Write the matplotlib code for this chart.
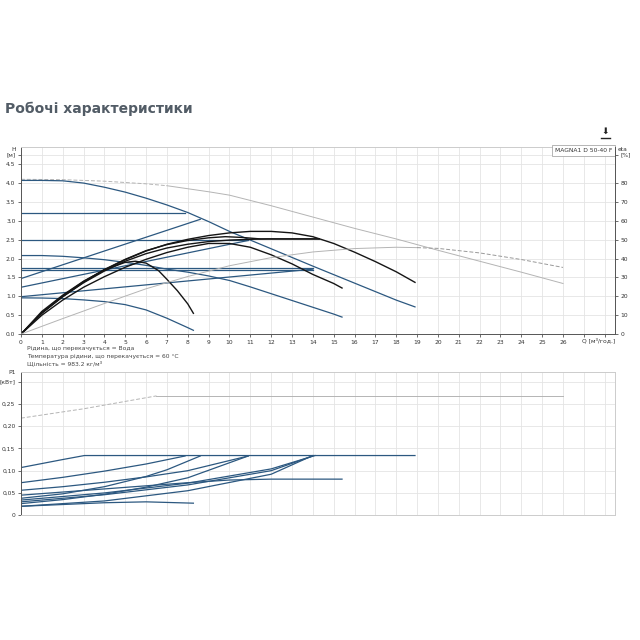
import numpy as np
import matplotlib
matplotlib.use("Agg")
import matplotlib.pyplot as plt
from matplotlib.lines import Line2D

# ---- data ----
# blue control curves, head H [m] vs flow Q [m3/h]
q_max = [0, 1, 2, 3, 4, 5, 6, 7, 8, 9, 10, 12, 14, 16, 18, 18.9]
h_max = [4.07, 4.07, 4.06, 4.0, 3.89, 3.76, 3.6, 3.42, 3.22, 2.98, 2.72, 2.26, 1.8, 1.35, 0.9, 0.72]
q_cp = [[0, 7.87], [0, 10.9], [0, 14.0], [0, 14.0]]
h_cp = [[3.21, 3.21], [2.5, 2.5], [1.74, 1.74], [1.70, 1.70]]
q_pp = [[0, 8.6], [0, 10.9], [0, 14.0]]
h_pp = [[1.47, 3.04], [1.24, 2.48], [0.99, 1.72]]
q_d = [0, 1, 2, 3, 4, 5, 6, 7, 8, 9, 10, 11, 12, 13, 14, 15, 15.4]
h_d = [2.08, 2.08, 2.06, 2.02, 1.97, 1.9, 1.82, 1.72, 1.64, 1.54, 1.42, 1.25, 1.07, 0.89, 0.71, 0.53, 0.45]
q_e = [0, 1, 2, 3, 4, 5, 6, 7, 8, 8.27]
h_e = [0.96, 0.955, 0.94, 0.905, 0.86, 0.78, 0.64, 0.42, 0.17, 0.10]

# black curves
q_k1 = [0, 1, 2, 3, 4, 5, 6, 7, 8, 9, 10, 11, 12, 13, 14, 15, 16, 17, 18, 18.9]
h_k1 = [0, 0.55, 0.99, 1.37, 1.7, 1.97, 2.2, 2.38, 2.51, 2.61, 2.68, 2.72, 2.72, 2.68, 2.58, 2.4, 2.17, 1.92, 1.65, 1.37]
q_k2 = [0, 1, 2, 3, 4, 5, 6, 7, 8, 9, 9.8, 10.6, 11.5, 13, 14.3]
h_k2 = [0, 0.57, 1.01, 1.39, 1.71, 1.98, 2.21, 2.37, 2.48, 2.55, 2.58, 2.56, 2.52, 2.52, 2.52]
q_k3 = [0, 1, 2, 3, 4, 5, 6, 7, 8, 9, 10, 11, 11.8, 13, 14.3]
h_k3 = [0, 0.56, 0.99, 1.36, 1.67, 1.93, 2.13, 2.28, 2.38, 2.45, 2.49, 2.51, 2.52, 2.52, 2.52]
q_k4 = [0, 1, 2, 3, 4, 5, 6, 7, 8, 9, 10, 11, 12, 13, 14, 15, 15.4]
h_k4 = [0, 0.5, 0.9, 1.24, 1.52, 1.77, 1.98, 2.16, 2.3, 2.4, 2.4, 2.3, 2.1, 1.86, 1.58, 1.34, 1.22]
q_k5 = [0, 1, 2, 3, 4, 5, 5.5, 6, 6.6, 7, 7.5, 8, 8.27]
h_k5 = [0, 0.6, 1.03, 1.4, 1.7, 1.9, 1.93, 1.88, 1.68, 1.45, 1.15, 0.8, 0.55]

# grey curves
q_g1 = [0, 2, 4, 6, 7, 8, 9, 10, 12, 14, 16, 18, 20, 22, 24, 26]
h_g1 = [4.1, 4.09, 4.05, 3.98, 3.93, 3.85, 3.77, 3.68, 3.4, 3.1, 2.8, 2.52, 2.22, 1.93, 1.64, 1.34]
q_eta = [0, 2, 4, 6, 8, 10, 12, 14, 16, 18, 19, 20, 22, 24, 26]
eta = [0, 8.2, 16.2, 24, 30.5, 36.2, 40.5, 43.5, 45.3, 46, 45.8, 45.4, 43, 39.5, 35.3]

# power P1 [kW]
q_p = [[0, 1, 2, 3.04, 18.9],
       [0, 2, 4, 6, 7.87],
       [0, 2, 4, 6, 8, 10.9],
       [0, 2, 4, 6, 8, 10, 12, 15.4],
       [0, 2, 4, 6, 7, 8.6],
       [0, 4, 8, 12, 14.1],
       [0, 4, 8, 12, 14.0],
       [0, 2, 4, 6, 8, 10.9],
       [0, 4, 8, 12, 14.0],
       [0, 2, 4, 6, 8.27]]
p1 = [[0.107, 0.116, 0.125, 0.134, 0.134],
      [0.073, 0.085, 0.099, 0.115, 0.133],
      [0.056, 0.064, 0.074, 0.086, 0.1, 0.133],
      [0.045, 0.052, 0.059, 0.066, 0.073, 0.079, 0.081, 0.081],
      [0.038, 0.048, 0.064, 0.087, 0.102, 0.133],
      [0.034, 0.05, 0.072, 0.104, 0.134],
      [0.03, 0.046, 0.068, 0.1, 0.133],
      [0.026, 0.035, 0.047, 0.063, 0.084, 0.133],
      [0.02, 0.032, 0.055, 0.092, 0.134],
      [0.02, 0.024, 0.028, 0.03, 0.027]]
q_pg = [0, 3, 6.5, 26]
p_pg = [0.218, 0.239, 0.268, 0.268]

notes = ["Рідина, що перекачується = Вода",
         "Температура рідини, що перекачується = 60 °C",
         "Щільність = 983.2 кг/м³"]

BLUE = '#2c5880'
BLACK = '#151515'
GREY = '#b4b4b4'
GRID = '#e4e4e4'
AX = '#555555'
FS = 4.3

fig = plt.figure(figsize=(6.4, 6.4), dpi=100)
fig.text(0.008, 0.830, 'Робочі характеристики', fontsize=10, fontweight='bold',
         color='#525c66', va='center')
fig.text(0.946, 0.795, '⬇', fontsize=6.5, ha='center', va='center', color='#222')
fig.add_artist(Line2D([0.939, 0.953], [0.785, 0.785], color='#222', lw=1.0))

ax = fig.add_axes([0.0328, 0.478, 0.928, 0.292])
ax2 = ax.twinx()
axp = fig.add_axes([0.0328, 0.195, 0.928, 0.224])

xmax = 28.49
for a in (ax, axp):
    a.set_xlim(0, xmax)
    a.set_xticks(range(29))
    a.grid(True, color=GRID, lw=0.6)
    a.set_axisbelow(True)
    for s in a.spines.values():
        s.set_color('#cccccc')
        s.set_linewidth(0.7)
    a.spines['left'].set_color(AX)
    a.tick_params(labelsize=FS, length=2.5, width=0.6, color=AX, labelcolor='#333', pad=1.5)

# ---- top: head ----
ax.set_ylim(0, 4.95)
ax.set_yticks(list(np.arange(0, 4.6, 0.5)) + [4.75])
ax.set_yticklabels(['%.1f' % v for v in np.arange(0, 4.6, 0.5)] + ['[м]'])
ax.set_xticklabels([str(i) for i in range(27)] + ['', ''])
ax.spines['bottom'].set_color(AX)
ax.text(-0.009, 0.99, 'H', transform=ax.transAxes, fontsize=FS, ha='right', va='center', color='#333')
ax.text(0.995, 0.996, 'MAGNA1 D 50-40 F', transform=ax.transAxes, fontsize=FS, ha='right', va='top',
        color='#333', bbox=dict(fc='white', ec='#999999', lw=0.5, boxstyle='square,pad=0.5'))
ax.text(27.7, -0.1, 'Q [м³/год.]', fontsize=FS, ha='center', va='top', color='#333')

ax2.set_ylim(0, 99)
ax2.set_yticks(list(range(0, 81, 10)) + [95])
ax2.set_yticklabels([str(v) for v in range(0, 81, 10)] + ['[%]'])
for s in ax2.spines.values():
    s.set_visible(False)
ax2.spines['right'].set_visible(True)
ax2.spines['right'].set_color(AX)
ax2.spines['right'].set_linewidth(0.7)
ax2.tick_params(labelsize=FS, length=2.5, width=0.6, color=AX, labelcolor='#333', pad=1.5)
ax2.text(1.004, 0.99, 'eta', transform=ax2.transAxes, fontsize=FS, ha='left', va='center', color='#333')

# grey curves
g1q = np.array(q_g1); g1h = np.array(h_g1)
ax.plot(g1q[g1q <= 7], g1h[g1q <= 7], color=GREY, lw=0.7, ls=(0, (4, 2)))
ax.plot(g1q[g1q >= 7], g1h[g1q >= 7], color=GREY, lw=0.7)
eq = np.array(q_eta); ev = np.array(eta)
ax2.plot(eq[eq <= 19], ev[eq <= 19], color=GREY, lw=0.7)
ax2.plot(eq[eq >= 19], ev[eq >= 19], color='#999999', lw=0.7, ls=(0, (4, 2)))

# blue curves
ax.plot(q_max, h_max, color=BLUE, lw=0.9)
for qq, hh in zip(q_cp, h_cp):
    ax.plot(qq, hh, color=BLUE, lw=0.9)
for qq, hh in zip(q_pp, h_pp):
    ax.plot(qq, hh, color=BLUE, lw=0.9)
ax.plot(q_d, h_d, color=BLUE, lw=0.9)
ax.plot(q_e, h_e, color=BLUE, lw=0.9)

# black curves
for qq, hh in [(q_k1, h_k1), (q_k2, h_k2), (q_k3, h_k3), (q_k4, h_k4), (q_k5, h_k5)]:
    ax.plot(qq, hh, color=BLACK, lw=1.0)

# notes
for i, t in enumerate(notes):
    fig.text(0.042, 0.4547 - i * 0.0115, t, fontsize=FS, color='#444', va='center')

# ---- bottom: power ----
axp.set_ylim(0, 0.322)
axp.set_yticks([0, 0.05, 0.10, 0.15, 0.20, 0.25, 0.30])
axp.set_yticklabels(['0', '0,05', '0,10', '0,15', '0,20', '0,25', '[кВт]'])
axp.tick_params(axis='x', length=0, labelbottom=False)
axp.text(-0.009, 0.995, 'P1', transform=axp.transAxes, fontsize=FS, ha='right', va='center', color='#333')
axp.plot(q_pg[:3], p_pg[:3], color=GREY, lw=0.7, ls=(0, (4, 2)))
axp.plot(q_pg[2:], p_pg[2:], color=GREY, lw=0.7)
for qq, pp in zip(q_p, p1):
    axp.plot(qq, pp, color=BLUE, lw=0.9)

fig.savefig('out.png', dpi=100)
